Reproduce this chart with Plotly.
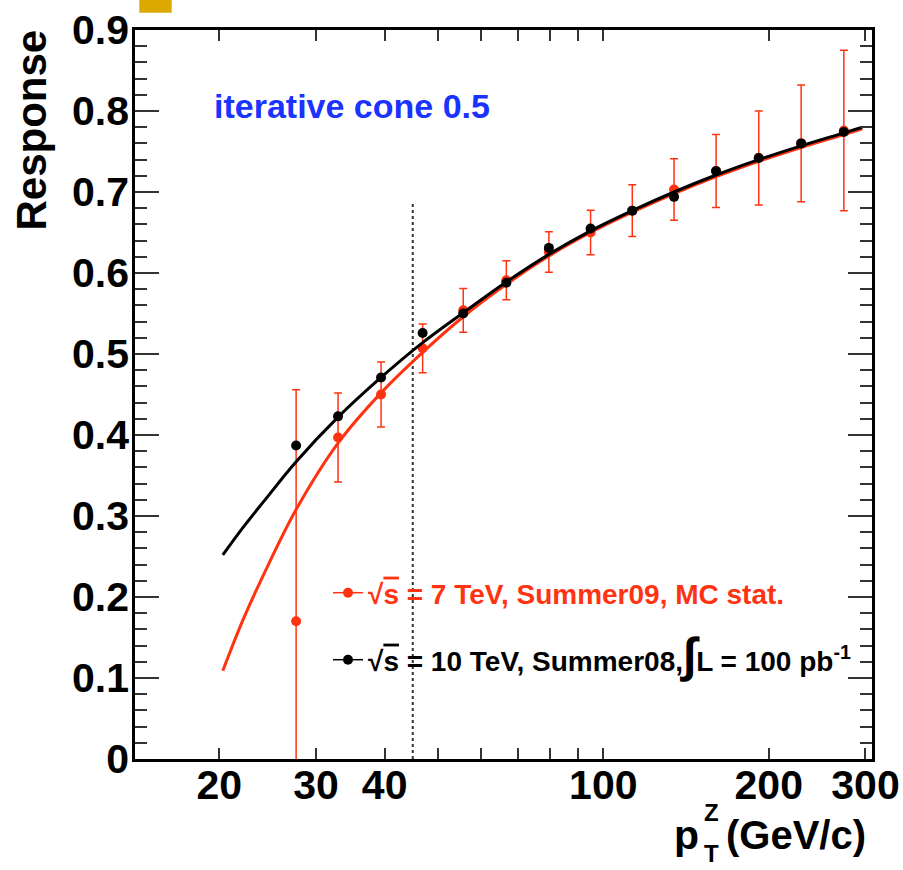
import math
import plotly.graph_objects as go

# ---------------- data ----------------
pt_bins = [27.6, 32.9, 39.4, 46.9, 55.6, 66.6, 79.6, 94.8, 112.9, 134.5, 160.4, 191.8, 229.1, 274.0]
resp_7tev = [0.170, 0.397, 0.450, 0.507, 0.554, 0.591, 0.626, 0.650, 0.677, 0.703, 0.726, 0.742, 0.760, 0.776]
err_7tev = [0.286, 0.055, 0.040, 0.030, 0.027, 0.024, 0.025, 0.0275, 0.032, 0.038, 0.045, 0.058, 0.072, 0.099]
resp_10tev = [0.387, 0.423, 0.471, 0.526, 0.550, 0.588, 0.631, 0.655, 0.677, 0.694, 0.726, 0.742, 0.760, 0.774]

fit_pt = [20.3, 22.1, 24.1, 27.6, 32.9, 39.4, 46.9, 55.6, 66.6, 79.6, 94.8, 112.9, 134.5, 160.4, 191.8, 229.1, 274.0, 296.0]
fit_10tev = [0.252, 0.286, 0.318, 0.367, 0.422, 0.471, 0.514, 0.551, 0.589, 0.623, 0.652, 0.677, 0.700, 0.721, 0.740, 0.757, 0.773, 0.780]
fit_7tev = [0.109, 0.172, 0.228, 0.308, 0.390, 0.452, 0.502, 0.546, 0.586, 0.621, 0.650, 0.675, 0.698, 0.719, 0.738, 0.755, 0.771, 0.778]

cut_pt = [45.0, 45.0]
cut_resp = [0.0, 0.687]

x_tick_vals = [20, 30, 40, 50, 60, 70, 80, 90, 100, 200, 300]
x_tick_text = ["20", "30", "40", "", "", "", "", "", "100", "200", "300"]
x_range = [14.05, 308.3]
y_range = [0.0, 0.9]

RED = "#ff3311"
BLACK = "#000000"
BLUE = "#1a33ff"
FONT = "Liberation Sans"

fig = go.Figure()

# dotted cut line
fig.add_trace(go.Scatter(x=cut_pt, y=cut_resp, mode="lines",
                         line=dict(color="#333333", width=2, dash="dot"),
                         showlegend=False, hoverinfo="skip"))
# fits and points
fig.add_trace(go.Scatter(x=fit_pt, y=fit_7tev, mode="lines",
                         line=dict(color=RED, width=3, shape="spline", smoothing=1.0),
                         showlegend=False))
fig.add_trace(go.Scatter(x=pt_bins, y=resp_7tev, mode="markers",
                         marker=dict(color=RED, size=10),
                         error_y=dict(type="data", array=err_7tev, color=RED, thickness=1.5, width=4),
                         showlegend=False))
fig.add_trace(go.Scatter(x=fit_pt, y=fit_10tev, mode="lines",
                         line=dict(color=BLACK, width=3, shape="spline", smoothing=1.0),
                         showlegend=False))
fig.add_trace(go.Scatter(x=pt_bins, y=resp_10tev, mode="markers",
                         marker=dict(color=BLACK, size=10),
                         showlegend=False))

# legend entries
sq = "\u221a<span style='text-decoration:overline'>s</span>"
fig.add_trace(go.Scatter(x=[None], y=[None], mode="lines+markers",
                         line=dict(color=RED, width=1.5), marker=dict(color=RED, size=10),
                         name=sq + " = 7 TeV, Summer09, MC stat.", legend="legend"))
fig.add_trace(go.Scatter(x=[None], y=[None], mode="lines+markers",
                         line=dict(color=BLACK, width=1.5), marker=dict(color=BLACK, size=10),
                         name=sq + " = 10 TeV, Summer08,<span style='font-size:48px'>\u222b</span>L = 100 pb<sup>-1</sup>",
                         legend="legend2"))

W, H = 903, 870
L, R, T, B = 135, 31, 30, 111
pw = W - L - R
ph = H - T - B


def px(xp):
    return (xp - L) / pw


def py(yp):
    return (H - B - yp) / ph


tickfont = dict(family=FONT, size=41, color="black", weight="bold")

fig.update_layout(
    width=W, height=H,
    margin=dict(l=L, r=R, t=T, b=B, autoexpand=False),
    paper_bgcolor="white", plot_bgcolor="white",
    xaxis=dict(type="log", range=[math.log10(x_range[0]), math.log10(x_range[1])],
               tickmode="array", tickvals=x_tick_vals, ticktext=x_tick_text,
               ticks="inside", ticklen=11, tickwidth=1.5, tickcolor="#333333",
               showline=True, linecolor="black", linewidth=2.5, mirror="ticks",
               showgrid=False, zeroline=False, tickfont=tickfont, automargin=False,
               ticklabelstandoff=-12),
    xaxis2=dict(type="log", range=[math.log10(x_range[0]), math.log10(x_range[1])],
                overlaying="x", anchor="y", side="bottom",
                tickmode="array", tickvals=[100], showticklabels=False,
                ticks="inside", ticklen=20, tickwidth=1.5, tickcolor="#333333",
                showline=False, mirror="ticks", showgrid=False, zeroline=False, automargin=False),
    yaxis=dict(range=y_range, tickmode="linear", tick0=0, dtick=0.1,
               ticks="inside", ticklen=24, tickwidth=1.5, tickcolor="#333333",
               minor=dict(dtick=0.02, ticks="inside", ticklen=12, tickwidth=1.5, tickcolor="#333333"),
               showline=True, linecolor="black", linewidth=2.5, mirror="ticks",
               showgrid=False, zeroline=False, tickfont=tickfont, automargin=False,
               ticklabelstandoff=-5),
    legend=dict(x=px(328), y=py(593), xanchor="left", yanchor="middle",
                bgcolor="rgba(0,0,0,0)", borderwidth=0,
                font=dict(family=FONT, size=28, color=RED, weight="bold")),
    legend2=dict(x=px(328), y=py(660), xanchor="left", yanchor="middle",
                 bgcolor="rgba(0,0,0,0)", borderwidth=0,
                 font=dict(family=FONT, size=28, color=BLACK, weight="bold")),
    showlegend=True,
)

annots = [
    dict(text="iterative cone 0.5", x=px(212), y=py(106), xanchor="left", yanchor="middle",
         font=dict(family=FONT, size=34, color=BLUE, weight="bold")),
    dict(text="Response", x=px(31), y=py(28), xanchor="center", yanchor="top", textangle=-90,
         font=dict(family=FONT, size=42, color="black", weight="bold")),
    dict(text="(GeV/c)", x=px(868), y=py(835), xanchor="right", yanchor="middle",
         font=dict(family=FONT, size=40, color="black", weight="bold")),
    dict(text="p", x=px(686), y=py(835), xanchor="center", yanchor="middle",
         font=dict(family=FONT, size=41, color="black", weight="bold")),
    dict(text="Z", x=px(711), y=py(812), xanchor="center", yanchor="middle",
         font=dict(family=FONT, size=24, color="black", weight="bold")),
    dict(text="T", x=px(711), y=py(853), xanchor="center", yanchor="middle",
         font=dict(family=FONT, size=24, color="black", weight="bold")),
]
for a in annots:
    a.update(xref="paper", yref="paper", showarrow=False)
fig.update_layout(annotations=annots)

fig.add_shape(type="rect", xref="paper", yref="paper",
              x0=px(139.3), x1=px(171.7), y0=py(12.7), y1=py(-5),
              fillcolor="#dba900", line=dict(width=0))

fig.write_html("out.html", config={"displayModeBar": False},
               post_script="document.body.style.margin='0px';document.body.style.padding='0px';")
